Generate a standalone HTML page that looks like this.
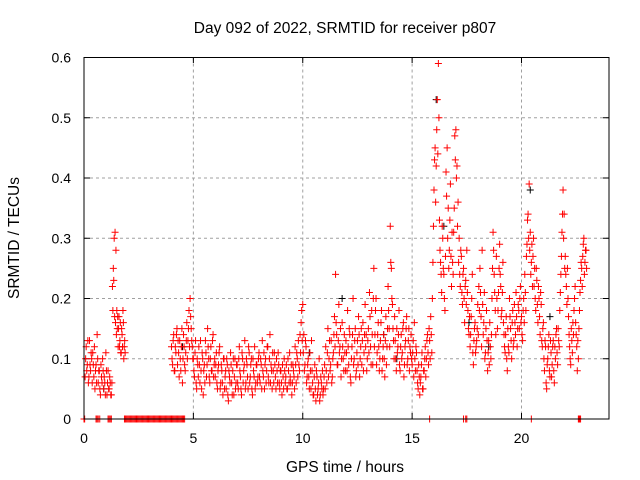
<!DOCTYPE html>
<html><head><meta charset="utf-8"><style>
body{margin:0;background:#fff}
svg{display:block;font-family:"Liberation Sans",sans-serif}
</style></head><body>
<svg id="chart" width="640" height="480" viewBox="0 0 640 480">
<rect width="640" height="480" fill="#fff"/>
<text x="345" y="33" font-size="15.5" text-anchor="middle">Day 092 of 2022, SRMTID for receiver p807</text>
<text x="345" y="472" font-size="15.5" text-anchor="middle">GPS time / hours</text>
<text x="0" y="0" font-size="15.5" text-anchor="middle" transform="translate(19,238) rotate(-90)">SRMTID / TECUs</text>
<g id="grid"></g><g id="ticks"></g><g id="marks"></g>
<rect x="84" y="57.5" width="525" height="361.5" fill="none" stroke="#000" stroke-width="1"/>
</svg>
<script>
const xTicks=[0,5,10,15,20];
const yTicks=[0,0.1,0.2,0.3,0.4,0.5,0.6];
const yTickLabels=["0","0.1","0.2","0.3","0.4","0.5","0.6"];
const seg1Start=0.05, seg1Step=0.05;
const seg1Vals=[0.07,0.12,0.09,0.06,0.13,0.08,0.10,0.11,0.07,0.05,0.09,0.14,0.06,0.08,0.04,0.07,0.10,0.05,0.06,0.11,0.04,0.08,0.05,0.06,0.04];
const seg1BStart=0.075;
const seg1BVals=[0.10,0.08,0.13,0.07,0.09,0.11,0.06,0.09,0.12,0.08,0.06,0.10,0.08,0.05,0.09,0.06,0.08,0.07,0.04,0.08,0.06,0.05,0.07,0.04,0.06];
const seg2Start=1.3, seg2Step=0.04;
const seg2Vals=[0.22,0.25,0.30,0.31,0.28,0.18,0.17,0.15,0.12,0.16,0.11,0.14,0.18,0.10,0.13];
const seg2BStart=1.32;
const seg2BVals=[0.18,0.23,0.17,0.16,0.14,0.15,0.12,0.17,0.13,0.11,0.15,0.12,0.16,0.12,0.11];
const seg3Start=4.0, seg3Step=0.05;
const seg3Vals=[
0.12,0.09,0.14,0.08,0.11,0.15,0.13,0.07,0.10,0.12,0.06,0.14,0.09,0.11,0.16,0.13,0.18,0.20,0.15,0.12,
0.10,0.07,0.13,0.05,0.09,0.12,0.06,0.08,0.11,0.04,0.09,0.13,0.07,0.15,0.10,0.06,0.12,0.08,0.14,0.09,
0.07,0.11,0.05,0.09,0.12,0.06,0.08,0.04,0.10,0.07,0.05,0.09,0.03,0.07,0.11,0.06,0.08,0.04,0.10,0.06,
0.09,0.05,0.12,0.07,0.04,0.10,0.08,0.13,0.06,0.09,0.05,0.11,0.07,0.10,0.04,0.08,0.12,0.06,0.09,0.07,
0.11,0.06,0.09,0.13,0.07,0.05,0.10,0.08,0.12,0.06,0.14,0.09,0.05,0.08,0.11,0.07,0.10,0.06,0.09,0.05,
0.08,0.04,0.07,0.10,0.06,0.09,0.05,0.08,0.11,0.06,0.04,0.09,0.07,0.12,0.06,0.10,0.13,0.08,0.11,0.18,
0.19,0.14,0.09,0.12,0.07,0.10,0.05,0.08,0.13,0.06,0.04,0.09,0.03,0.07,0.05,0.10,0.04,0.06,0.08,0.05,
0.09,0.12,0.06,0.15,0.10,0.08,0.13,0.07,0.11,0.17,0.24,0.14,0.09,0.19,0.12,0.07,0.16,0.10,0.14,0.08,
0.11,0.18,0.09,0.14,0.06,0.12,0.20,0.10,0.15,0.08,0.13,0.17,0.07,0.12,0.09,0.16,0.11,0.19,0.14,0.10,
0.15,0.21,0.12,0.18,0.09,0.25,0.14,0.20,0.11,0.16,0.08,0.13,0.18,0.10,0.14,0.07,0.17,0.12,0.22,0.15,
0.32,0.25,0.19,0.13,0.17,0.10,0.15,0.12,0.18,0.08,0.14,0.11,0.16,0.09,0.13,0.17,0.10,0.15,0.12,0.14,
0.09,0.13,0.16,0.08,0.11,0.06,0.09,0.04,0.07,0.11,0.05,0.08,0.12,0.10,0.14,0.09,0.13,0.17,0.11,0.26,
0.38,0.45,0.42,0.53,0.59,0.33,0.26,0.21,0.30,0.24,0.18,0.41,0.45,0.35,0.28,0.39,0.22,0.26,0.31,0.47,
0.48,0.42,0.36,0.30,0.22,0.27,0.19,0.25,0.16,0.23,0.28,0.18,0.14,0.12,0.17,0.24,0.09,0.15,0.11,0.13,
0.19,0.22,0.25,0.17,0.28,0.14,0.21,0.11,0.18,0.08,0.13,0.16,0.10,0.20,0.31,0.24,0.18,0.27,0.15,0.21,
0.29,0.22,0.18,0.26,0.14,0.11,0.17,0.08,0.12,0.20,0.15,0.10,0.18,0.13,0.16,0.21,0.12,0.19,0.15,0.22,
0.17,0.13,0.20,0.24,0.18,0.29,0.34,0.39,0.31,0.26,0.22,0.30,0.25,0.18,0.23,0.16,0.20,0.14,0.19,0.12,
0.16,0.08,0.12,0.05,0.10,0.14,0.07,0.11,0.09,0.13,0.06,0.10,0.15,0.09,0.13,0.18,0.24,0.31,0.38,0.34,
0.27,0.22,0.25,0.17,0.12,0.09,0.13,0.16,0.18,0.22,0.14,0.08,0.10,0.18,0.23,0.25,0.27,0.30,0.26,0.28];
const seg3BStart=4.025;
const seg3BVals=[
0.10,0.13,0.08,0.12,0.14,0.09,0.11,0.13,0.08,0.15,0.10,0.12,0.08,0.13,0.10,0.15,0.12,0.17,0.13,0.10,
0.08,0.11,0.06,0.10,0.07,0.09,0.13,0.05,0.10,0.08,0.06,0.11,0.09,0.12,0.07,0.10,0.08,0.13,0.07,0.10,
0.09,0.06,0.08,0.11,0.05,0.09,0.06,0.10,0.05,0.08,0.10,0.04,0.08,0.06,0.09,0.04,0.10,0.07,0.05,0.09,
0.06,0.10,0.08,0.05,0.11,0.06,0.09,0.05,0.10,0.07,0.12,0.06,0.09,0.05,0.10,0.07,0.05,0.09,0.06,0.10,
0.07,0.10,0.05,0.08,0.11,0.09,0.06,0.12,0.07,0.10,0.06,0.08,0.11,0.06,0.09,0.05,0.08,0.11,0.06,0.08,
0.06,0.09,0.05,0.08,0.07,0.05,0.10,0.06,0.07,0.09,0.06,0.08,0.05,0.09,0.11,0.07,0.09,0.14,0.16,0.13,
0.11,0.08,0.13,0.06,0.09,0.07,0.11,0.05,0.08,0.04,0.07,0.05,0.08,0.04,0.06,0.03,0.07,0.05,0.04,0.07,
0.05,0.08,0.11,0.07,0.13,0.09,0.06,0.10,0.14,0.12,0.16,0.09,0.13,0.11,0.15,0.10,0.12,0.08,0.11,0.13,
0.08,0.12,0.15,0.07,0.10,0.14,0.09,0.13,0.07,0.11,0.09,0.14,0.10,0.15,0.13,0.08,0.14,0.12,0.08,0.13,
0.11,0.17,0.09,0.14,0.20,0.12,0.18,0.09,0.14,0.12,0.10,0.16,0.08,0.12,0.10,0.13,0.09,0.15,0.18,0.12,
0.26,0.20,0.15,0.10,0.13,0.08,0.11,0.14,0.09,0.12,0.10,0.15,0.07,0.12,0.15,0.09,0.13,0.08,0.11,0.10,
0.11,0.07,0.10,0.12,0.08,0.05,0.07,0.06,0.09,0.05,0.08,0.10,0.07,0.13,0.11,0.15,0.10,0.14,0.20,0.32,
0.43,0.36,0.48,0.44,0.50,0.28,0.24,0.32,0.25,0.20,0.27,0.37,0.30,0.25,0.33,0.27,0.31,0.24,0.35,0.43,
0.40,0.32,0.26,0.24,0.28,0.21,0.24,0.20,0.22,0.19,0.21,0.15,0.17,0.14,0.20,0.11,0.13,0.16,0.12,0.15,
0.14,0.18,0.21,0.12,0.19,0.16,0.10,0.15,0.13,0.11,0.09,0.12,0.14,0.25,0.28,0.21,0.14,0.20,0.18,0.25,
0.24,0.17,0.21,0.16,0.12,0.14,0.10,0.15,0.11,0.17,0.13,0.16,0.12,0.19,0.14,0.17,0.15,0.18,0.20,0.16,
0.14,0.18,0.16,0.21,0.27,0.33,0.30,0.28,0.24,0.29,0.27,0.22,0.20,0.25,0.19,0.22,0.17,0.21,0.13,0.15,
0.10,0.13,0.06,0.09,0.12,0.08,0.13,0.07,0.12,0.08,0.12,0.14,0.11,0.15,0.12,0.21,0.27,0.34,0.30,0.25,
0.24,0.19,0.20,0.14,0.10,0.15,0.11,0.14,0.20,0.16,0.12,0.13,0.15,0.21,0.26,0.22,0.29,0.24,0.28,0.25];
const zeroTimes=[0.0,0.03,0.55,0.6,0.65,0.72,1.1,1.15,1.2,1.25,1.85,1.9,1.95,2.0,2.05,2.1,2.15,2.2,2.25,2.3,2.35,2.4,2.45,2.5,2.55,2.6,2.65,2.7,2.75,2.8,2.85,2.9,2.95,3.0,3.05,3.1,3.15,3.2,3.25,3.3,3.35,3.4,3.45,3.5,3.55,3.6,3.65,3.7,3.75,3.8,3.85,3.9,3.95,4.0,4.05,4.1,4.15,4.2,4.25,4.3,4.35,4.4,4.45,4.5,4.55,4.6,15.8,17.35,17.45,17.5,20.45,22.6,22.63,22.66,22.7];
const blackT=[16.1,16.45,14.3,18.5,21.3,10.3,13.7,20.4,17.6,4.5,0.9,11.8];
const blackV=[0.53,0.32,0.10,0.12,0.17,0.11,0.14,0.38,0.16,0.12,0.05,0.20];

const X=t=>84+t*525/24;
const Y=v=>419-v*361.5/0.6;
const NS="http://www.w3.org/2000/svg";
function mk(tag,attrs,parent){const e=document.createElementNS(NS,tag);for(const k in attrs)e.setAttribute(k,attrs[k]);parent.appendChild(e);return e;}
const grid=document.getElementById('grid'),ticks=document.getElementById('ticks'),marks=document.getElementById('marks');
xTicks.forEach(t=>{
  if(t>0){const g=mk('line',{x1:X(t),x2:X(t),y1:57.5,y2:419,stroke:'#a0a0a0','stroke-dasharray':'3,3'},grid);
  
  }
  mk('line',{x1:X(t),x2:X(t),y1:419,y2:413,stroke:'#000'},ticks);
  mk('line',{x1:X(t),x2:X(t),y1:57.5,y2:63,stroke:'#000'},ticks);
  const l=mk('text',{x:X(t),y:443,'font-size':14,'text-anchor':'middle'},ticks);l.textContent=t;
  
  
});
yTicks.forEach((v,i)=>{
  if(v>0&&v<0.6){const g=mk('line',{x1:84,x2:609,y1:Y(v),y2:Y(v),stroke:'#a0a0a0','stroke-dasharray':'3,3'},grid);
  
  }
  mk('line',{x1:84,x2:90,y1:Y(v),y2:Y(v),stroke:'#000'},ticks);
  mk('line',{x1:603,x2:609,y1:Y(v),y2:Y(v),stroke:'#000'},ticks);
  const l=mk('text',{x:71,y:Y(v)+5,'font-size':14,'text-anchor':'end'},ticks);l.textContent=yTickLabels[i];
  
  
});
function cross(t,v,color,name){
  const x=X(t),y=Y(v);
  const p=mk('path',{d:`M${x-3.5},${y}H${x+3.5}M${x},${y-3.5}V${y+3.5}`,stroke:color,'stroke-width':1,fill:'none'},marks);
  
  
}
blackT.forEach((t,i)=>cross(t,blackV[i],'#000','black-point'));
seg1Vals.forEach((v,i)=>cross(seg1Start+i*seg1Step,v,'#f00','red-point'));
seg1BVals.forEach((v,i)=>cross(seg1BStart+i*seg1Step,v,'#f00','red-point'));
seg2Vals.forEach((v,i)=>cross(seg2Start+i*seg2Step,v,'#f00','red-point'));
seg2BVals.forEach((v,i)=>cross(seg2BStart+i*seg2Step,v,'#f00','red-point'));
seg3Vals.forEach((v,i)=>cross(seg3Start+i*seg3Step,v,'#f00','red-point'));
seg3BVals.forEach((v,i)=>cross(seg3BStart+i*seg3Step,v,'#f00','red-point'));
zeroTimes.forEach(t=>cross(t,0,'#f00','zero-point'));
</script>
</body></html>
